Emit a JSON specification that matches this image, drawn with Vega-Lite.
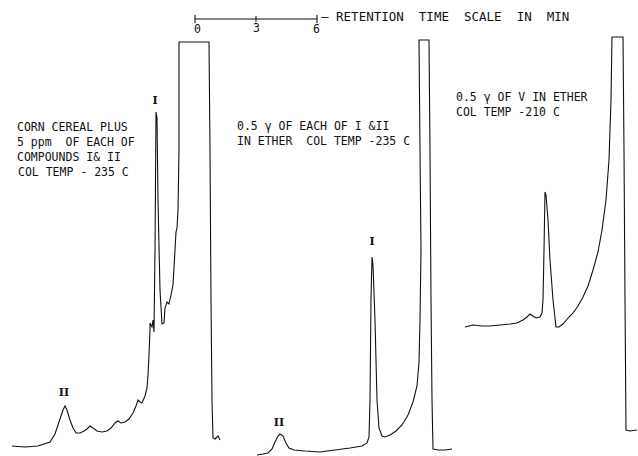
{
  "$schema": "https://vega.github.io/schema/vega-lite/v6.json",
  "width": 638,
  "height": 456,
  "autosize": {"type": "none"},
  "padding": 0,
  "background": "white",
  "config": {"view": {"stroke": null}},
  "datasets": {
    "traces": [
      {"trace": "A", "i": 1, "x": 12, "y": 446}, {"trace": "A", "i": 2, "x": 25, "y": 447}, {"trace": "A", "i": 3, "x": 38, "y": 446},
      {"trace": "A", "i": 4, "x": 50, "y": 442}, {"trace": "A", "i": 5, "x": 55, "y": 434}, {"trace": "A", "i": 6, "x": 59, "y": 422},
      {"trace": "A", "i": 7, "x": 63, "y": 410}, {"trace": "A", "i": 8, "x": 65, "y": 406}, {"trace": "A", "i": 9, "x": 67, "y": 410},
      {"trace": "A", "i": 10, "x": 70, "y": 420}, {"trace": "A", "i": 11, "x": 73, "y": 428}, {"trace": "A", "i": 12, "x": 76, "y": 433},
      {"trace": "A", "i": 13, "x": 80, "y": 433}, {"trace": "A", "i": 14, "x": 84, "y": 431}, {"trace": "A", "i": 15, "x": 87, "y": 429},
      {"trace": "A", "i": 16, "x": 90, "y": 426}, {"trace": "A", "i": 17, "x": 93, "y": 428}, {"trace": "A", "i": 18, "x": 97, "y": 431},
      {"trace": "A", "i": 19, "x": 102, "y": 432}, {"trace": "A", "i": 20, "x": 107, "y": 431}, {"trace": "A", "i": 21, "x": 111, "y": 428},
      {"trace": "A", "i": 22, "x": 115, "y": 423}, {"trace": "A", "i": 23, "x": 118, "y": 421}, {"trace": "A", "i": 24, "x": 121, "y": 423},
      {"trace": "A", "i": 25, "x": 125, "y": 422}, {"trace": "A", "i": 26, "x": 129, "y": 419}, {"trace": "A", "i": 27, "x": 133, "y": 413},
      {"trace": "A", "i": 28, "x": 136, "y": 406}, {"trace": "A", "i": 29, "x": 138, "y": 400}, {"trace": "A", "i": 30, "x": 140, "y": 402},
      {"trace": "A", "i": 31, "x": 142, "y": 403}, {"trace": "A", "i": 32, "x": 145, "y": 396}, {"trace": "A", "i": 33, "x": 147, "y": 388},
      {"trace": "A", "i": 34, "x": 148, "y": 375}, {"trace": "A", "i": 35, "x": 149, "y": 355}, {"trace": "A", "i": 36, "x": 150, "y": 330},
      {"trace": "A", "i": 37, "x": 150, "y": 323}, {"trace": "A", "i": 38, "x": 152, "y": 327}, {"trace": "A", "i": 39, "x": 153, "y": 320},
      {"trace": "A", "i": 40, "x": 154, "y": 332}, {"trace": "A", "i": 41, "x": 155, "y": 250}, {"trace": "A", "i": 42, "x": 156, "y": 112},
      {"trace": "A", "i": 43, "x": 157, "y": 118}, {"trace": "A", "i": 44, "x": 158, "y": 200}, {"trace": "A", "i": 45, "x": 160, "y": 290},
      {"trace": "A", "i": 46, "x": 162, "y": 324}, {"trace": "A", "i": 47, "x": 164, "y": 323}, {"trace": "A", "i": 48, "x": 165, "y": 308},
      {"trace": "A", "i": 49, "x": 167, "y": 302}, {"trace": "A", "i": 50, "x": 169, "y": 304}, {"trace": "A", "i": 51, "x": 171, "y": 295},
      {"trace": "A", "i": 52, "x": 173, "y": 285}, {"trace": "A", "i": 53, "x": 175, "y": 250}, {"trace": "A", "i": 54, "x": 176, "y": 232},
      {"trace": "A", "i": 55, "x": 177, "y": 228}, {"trace": "A", "i": 56, "x": 178, "y": 210}, {"trace": "A", "i": 57, "x": 179, "y": 150},
      {"trace": "A", "i": 58, "x": 179, "y": 42}, {"trace": "A", "i": 59, "x": 209, "y": 42}, {"trace": "A", "i": 60, "x": 210, "y": 150},
      {"trace": "A", "i": 61, "x": 211, "y": 300}, {"trace": "A", "i": 62, "x": 212, "y": 400}, {"trace": "A", "i": 63, "x": 213, "y": 438},
      {"trace": "A", "i": 64, "x": 215, "y": 439}, {"trace": "A", "i": 65, "x": 218, "y": 436}, {"trace": "A", "i": 66, "x": 220, "y": 440},

      {"trace": "B", "i": 1, "x": 257, "y": 455}, {"trace": "B", "i": 2, "x": 263, "y": 454}, {"trace": "B", "i": 3, "x": 268, "y": 453},
      {"trace": "B", "i": 4, "x": 272, "y": 449}, {"trace": "B", "i": 5, "x": 275, "y": 442}, {"trace": "B", "i": 6, "x": 278, "y": 436},
      {"trace": "B", "i": 7, "x": 280, "y": 434}, {"trace": "B", "i": 8, "x": 283, "y": 436}, {"trace": "B", "i": 9, "x": 286, "y": 443},
      {"trace": "B", "i": 10, "x": 289, "y": 448}, {"trace": "B", "i": 11, "x": 294, "y": 450}, {"trace": "B", "i": 12, "x": 305, "y": 451},
      {"trace": "B", "i": 13, "x": 320, "y": 452}, {"trace": "B", "i": 14, "x": 335, "y": 450}, {"trace": "B", "i": 15, "x": 350, "y": 448},
      {"trace": "B", "i": 16, "x": 362, "y": 446}, {"trace": "B", "i": 17, "x": 367, "y": 443}, {"trace": "B", "i": 18, "x": 369, "y": 437},
      {"trace": "B", "i": 19, "x": 370, "y": 400}, {"trace": "B", "i": 20, "x": 371, "y": 300}, {"trace": "B", "i": 21, "x": 372, "y": 257},
      {"trace": "B", "i": 22, "x": 373, "y": 265}, {"trace": "B", "i": 23, "x": 375, "y": 320}, {"trace": "B", "i": 24, "x": 377, "y": 400},
      {"trace": "B", "i": 25, "x": 379, "y": 428}, {"trace": "B", "i": 26, "x": 382, "y": 436}, {"trace": "B", "i": 27, "x": 385, "y": 437},
      {"trace": "B", "i": 28, "x": 390, "y": 435}, {"trace": "B", "i": 29, "x": 396, "y": 431}, {"trace": "B", "i": 30, "x": 402, "y": 425},
      {"trace": "B", "i": 31, "x": 408, "y": 415}, {"trace": "B", "i": 32, "x": 413, "y": 402}, {"trace": "B", "i": 33, "x": 417, "y": 386},
      {"trace": "B", "i": 34, "x": 419, "y": 362}, {"trace": "B", "i": 35, "x": 420, "y": 320}, {"trace": "B", "i": 36, "x": 421, "y": 250},
      {"trace": "B", "i": 37, "x": 420, "y": 150}, {"trace": "B", "i": 38, "x": 419, "y": 40}, {"trace": "B", "i": 39, "x": 429, "y": 40},
      {"trace": "B", "i": 40, "x": 430, "y": 150}, {"trace": "B", "i": 41, "x": 431, "y": 300}, {"trace": "B", "i": 42, "x": 432, "y": 400},
      {"trace": "B", "i": 43, "x": 433, "y": 449}, {"trace": "B", "i": 44, "x": 438, "y": 450}, {"trace": "B", "i": 45, "x": 445, "y": 450},
      {"trace": "B", "i": 46, "x": 452, "y": 449},

      {"trace": "C", "i": 1, "x": 465, "y": 327}, {"trace": "C", "i": 2, "x": 473, "y": 325}, {"trace": "C", "i": 3, "x": 482, "y": 326},
      {"trace": "C", "i": 4, "x": 490, "y": 326}, {"trace": "C", "i": 5, "x": 500, "y": 325}, {"trace": "C", "i": 6, "x": 510, "y": 324},
      {"trace": "C", "i": 7, "x": 517, "y": 323}, {"trace": "C", "i": 8, "x": 523, "y": 320}, {"trace": "C", "i": 9, "x": 527, "y": 317},
      {"trace": "C", "i": 10, "x": 530, "y": 314}, {"trace": "C", "i": 11, "x": 533, "y": 316}, {"trace": "C", "i": 12, "x": 536, "y": 318},
      {"trace": "C", "i": 13, "x": 540, "y": 317}, {"trace": "C", "i": 14, "x": 542, "y": 313}, {"trace": "C", "i": 15, "x": 543, "y": 300},
      {"trace": "C", "i": 16, "x": 544, "y": 250}, {"trace": "C", "i": 17, "x": 545, "y": 192}, {"trace": "C", "i": 18, "x": 546, "y": 195},
      {"trace": "C", "i": 19, "x": 548, "y": 220}, {"trace": "C", "i": 20, "x": 550, "y": 260}, {"trace": "C", "i": 21, "x": 553, "y": 300},
      {"trace": "C", "i": 22, "x": 556, "y": 327}, {"trace": "C", "i": 23, "x": 559, "y": 327}, {"trace": "C", "i": 24, "x": 563, "y": 324},
      {"trace": "C", "i": 25, "x": 568, "y": 318}, {"trace": "C", "i": 26, "x": 573, "y": 313}, {"trace": "C", "i": 27, "x": 578, "y": 306},
      {"trace": "C", "i": 28, "x": 583, "y": 297}, {"trace": "C", "i": 29, "x": 588, "y": 286}, {"trace": "C", "i": 30, "x": 593, "y": 270},
      {"trace": "C", "i": 31, "x": 598, "y": 252}, {"trace": "C", "i": 32, "x": 602, "y": 230}, {"trace": "C", "i": 33, "x": 606, "y": 200},
      {"trace": "C", "i": 34, "x": 609, "y": 160}, {"trace": "C", "i": 35, "x": 611, "y": 100}, {"trace": "C", "i": 36, "x": 612, "y": 37},
      {"trace": "C", "i": 37, "x": 623, "y": 37}, {"trace": "C", "i": 38, "x": 624, "y": 150}, {"trace": "C", "i": 39, "x": 625, "y": 300},
      {"trace": "C", "i": 40, "x": 626, "y": 430}, {"trace": "C", "i": 41, "x": 630, "y": 431}, {"trace": "C", "i": 42, "x": 637, "y": 430}
    ],
    "scalebar": [
      {"x": 195, "x2": 317, "y": 19, "y2": 19},
      {"x": 195, "x2": 195, "y": 15, "y2": 23},
      {"x": 256, "x2": 256, "y": 16, "y2": 22},
      {"x": 317, "x2": 317, "y": 15, "y2": 23}
    ],
    "title": [
      {"x": 321, "y": 17, "text": "— RETENTION\u00a0 TIME\u00a0 SCALE\u00a0 IN\u00a0 MIN"}
    ],
    "notes": [
      {"x": 194, "y": 30, "text": "0"},
      {"x": 253, "y": 29, "text": "3"},
      {"x": 313, "y": 30, "text": "6"},
      {"x": 17, "y": 128, "text": "CORN CEREAL PLUS"},
      {"x": 17, "y": 143, "text": "5 ppm\u00a0 OF EACH OF"},
      {"x": 17, "y": 158, "text": "COMPOUNDS I& II"},
      {"x": 18, "y": 173, "text": "COL TEMP - 235 C"},
      {"x": 237, "y": 127, "text": "0.5 γ OF EACH OF I &II"},
      {"x": 237, "y": 142, "text": "IN ETHER\u00a0 COL TEMP -235 C"},
      {"x": 456, "y": 98, "text": "0.5 γ OF V IN ETHER"},
      {"x": 456, "y": 113, "text": "COL TEMP -210 C"}
    ],
    "numerals": [
      {"x": 155, "y": 101, "text": "I"},
      {"x": 64, "y": 393, "text": "II"},
      {"x": 279, "y": 423, "text": "II"},
      {"x": 372, "y": 242, "text": "I"}
    ]
  },
  "layer": [
    {
      "data": {"name": "traces"},
      "mark": {"type": "line", "color": "#111111", "strokeWidth": 1.1, "interpolate": "linear"},
      "encoding": {
        "x": {"field": "x", "type": "quantitative", "scale": {"domain": [0, 638], "nice": false, "zero": false}, "axis": null},
        "y": {"field": "y", "type": "quantitative", "scale": {"domain": [0, 456], "nice": false, "zero": false, "reverse": true}, "axis": null},
        "detail": {"field": "trace"},
        "order": {"field": "i", "type": "quantitative"}
      }
    },
    {
      "data": {"name": "scalebar"},
      "mark": {"type": "rule", "color": "#111111", "strokeWidth": 1.1},
      "encoding": {
        "x": {"field": "x", "type": "quantitative", "scale": {"domain": [0, 638], "nice": false, "zero": false}, "axis": null},
        "x2": {"field": "x2"},
        "y": {"field": "y", "type": "quantitative", "scale": {"domain": [0, 456], "nice": false, "zero": false, "reverse": true}, "axis": null},
        "y2": {"field": "y2"}
      }
    },
    {
      "data": {"name": "title"},
      "mark": {"type": "text", "align": "left", "baseline": "middle", "font": "DejaVu Sans Mono", "fontSize": 12.5, "color": "#111111"},
      "encoding": {
        "x": {"field": "x", "type": "quantitative", "scale": {"domain": [0, 638], "nice": false, "zero": false}, "axis": null},
        "y": {"field": "y", "type": "quantitative", "scale": {"domain": [0, 456], "nice": false, "zero": false, "reverse": true}, "axis": null},
        "text": {"field": "text"}
      }
    },
    {
      "data": {"name": "notes"},
      "mark": {"type": "text", "align": "left", "baseline": "middle", "font": "DejaVu Sans Mono", "fontSize": 11.5, "color": "#111111"},
      "encoding": {
        "x": {"field": "x", "type": "quantitative", "scale": {"domain": [0, 638], "nice": false, "zero": false}, "axis": null},
        "y": {"field": "y", "type": "quantitative", "scale": {"domain": [0, 456], "nice": false, "zero": false, "reverse": true}, "axis": null},
        "text": {"field": "text"}
      }
    },
    {
      "data": {"name": "numerals"},
      "mark": {"type": "text", "align": "center", "baseline": "middle", "font": "DejaVu Serif", "fontSize": 11, "fontWeight": "bold", "color": "#111111"},
      "encoding": {
        "x": {"field": "x", "type": "quantitative", "scale": {"domain": [0, 638], "nice": false, "zero": false}, "axis": null},
        "y": {"field": "y", "type": "quantitative", "scale": {"domain": [0, 456], "nice": false, "zero": false, "reverse": true}, "axis": null},
        "text": {"field": "text"}
      }
    }
  ]
}
